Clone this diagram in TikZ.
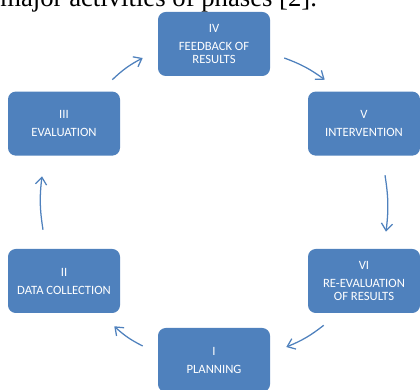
\documentclass[tikz,border=0pt]{standalone}
\usepackage{fontspec}
\setmainfont{Liberation Serif}
\newfontfamily\boxfont{Carlito}
\usetikzlibrary{arrows.meta}
\definecolor{PhaseBlue}{RGB}{79,129,189}

\begin{document}
\begin{tikzpicture}[
    phase/.style={fill=PhaseBlue, rounded corners=5.5pt, align=center, text=white, minimum width=2.8cm, minimum height=1.6cm, font=\boxfont\fontsize{9}{8.8}\selectfont},
    arrow/.style={-{Straight Barb[length=1.8mm, width=2.8mm]}, line width=0.9pt, draw=PhaseBlue, bend left=8}
  ]
    \useasboundingbox (0,0) rectangle (10.5,9.75);
    \begin{scope}
    \clip (0,0) rectangle (10.5,9.75);
    \node[anchor=base west, inner sep=0pt, font=\fontsize{19}{22}\selectfont] (caption) at (0,9.58) {major activities of phases [2].};
    \node[phase] (plan) at (5.35,0.75) {I\\[4pt]PLANNING};
    \end{scope}
    \node[phase] (data) at (1.6,2.725) {II\\[4pt]DATA COLLECTION};
    \node[phase] (eval) at (1.6,6.66) {III\\[4pt]EVALUATION};
    \node[phase] (feed) at (5.35,8.65) {IV\\[4pt]FEEDBACK OF\\RESULTS};
    \node[phase] (inter) at (9.1,6.66) {V\\[4pt]INTERVENTION};
    \node[phase] (reeval) at (9.1,2.725) {VI\\[4pt]RE-EVALUATION\\OF RESULTS};

    \draw[arrow] ([shift={(-0.2,0.29)}]eval.north east) to ([shift={(-0.375,-0.35)}]feed.west);
    \draw[arrow] ([shift={(0.35,-0.35)}]feed.east) to ([shift={(0.425,0.29)}]inter.north west);
    \draw[arrow] ([shift={(0.525,-0.485)}]inter.south) to ([shift={(0.55,0.425)}]reeval.north);
    \draw[arrow] ([shift={(0.4,-0.3)}]reeval.south west) to ([shift={(0.4,0.325)}]plan.east);
    \draw[arrow] ([shift={(-0.375,0.35)}]plan.west) to ([shift={(-0.15,-0.325)}]data.south east);
    \draw[arrow] ([shift={(-0.525,0.475)}]data.north) to ([shift={(-0.55,-0.51)}]eval.south);
  \end{tikzpicture}
\end{document}
